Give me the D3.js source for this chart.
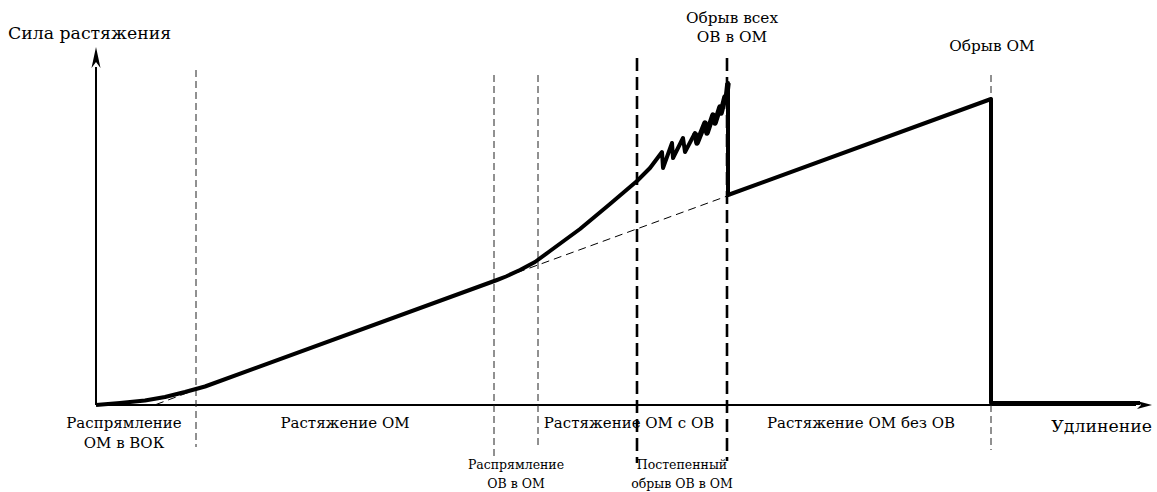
<!DOCTYPE html>
<html>
<head>
<meta charset="utf-8">
<script src="https://cdn.jsdelivr.net/npm/d3@7/dist/d3.min.js"></script>
<style>
  html, body { margin: 0; padding: 0; background: #fff; }
  svg { display: block; }
  svg text { font-family: "DejaVu Serif", "Liberation Serif", serif; }
</style>
</head>
<body>
<svg id="chart" width="1157" height="492"></svg>
<script>
// ---- data (elongation units, force units) ----
const curveX = [0, 2.4, 4.9, 6.9, 8.9, 10.9, 40.1, 41.0, 42.4, 43.9, 45.4, 48.4, 51.4, 54.1, 55.4,
  56.6, 56.7, 57.6, 57.7, 58.7, 58.9, 59.9, 60.1, 60.9, 61.1, 61.7, 61.9, 62.4, 62.5, 62.9, 63.0, 63.2,
  63.2, 89.5, 89.5, 104.4];
const curveY = [0, 0.2, 0.45, 0.8, 1.3, 1.85, 12.5, 12.85, 13.5, 14.3, 15.4, 17.6, 20.1, 22.4, 23.7,
  25.3, 23.7, 26.2, 24.7, 26.7, 25.3, 27.2, 26.2, 28.2, 27.2, 29.0, 28.2, 29.8, 29.2, 30.8, 30.4, 32.2,
  21.0, 30.6, 0.2, 0.2];
// extrapolated linear (fiber-module only) line segments
const linearX = [[6.0, 11.5], [40.9, 63.2]];
const linearY = [[0.05, 2.1], [12.8, 20.93]];
// boundary markers
const markerX = [10.0, 39.8, 44.2, 54.1, 63.1, 89.5];
const markerHeavy = [false, false, false, true, true, false];
// region labels under axis
const regionLabels = [["Распрямление", "ОМ в ВОК"], ["Растяжение ОМ"], ["Растяжение  ОМ с ОВ"], ["Растяжение ОМ без ОВ"]];
const regionLabelX = [2.8, 24.9, 53.3, 76.5];
const subLabels = [["Распрямление", "ОВ в ОМ"], ["Постепенный", "обрыв ОВ в ОМ"]];
const subLabelX = [42.0, 58.6];
const topLabels = [["Обрыв всех", "ОВ в ОМ"], ["Обрыв  ОМ"]];
const topLabelX = [63.6, 89.6];
const yTitle = "Сила растяжения";
const xTitle = "Удлинение";

// ---- scales ----
const x = d3.scaleLinear().domain([0, 105]).range([96, 1146]);
const y = d3.scaleLinear().domain([0, 36]).range([405, 45]);
const svg = d3.select("#chart");

// axes
svg.append("line").attr("x1", x(0)).attr("x2", x(104)).attr("y1", y(0)).attr("y2", y(0))
  .attr("stroke", "#000").attr("stroke-width", 2);
svg.append("line").attr("x1", x(0)).attr("x2", x(0)).attr("y1", y(0)).attr("y2", y(33.8))
  .attr("stroke", "#000").attr("stroke-width", 2);
// arrowheads
const yt = [x(0), y(35.8)];
svg.append("path").attr("d", `M${yt[0]},${yt[1]} L${yt[0]-4.5},${yt[1]+21} L${yt[0]},${yt[1]+15} L${yt[0]+4.5},${yt[1]+21} Z`).attr("fill", "#000");
const xt = [x(105.6), y(0)];
svg.append("path").attr("d", `M${xt[0]},${xt[1]} L${xt[0]-15},${xt[1]-4} L${xt[0]-11},${xt[1]} L${xt[0]-15},${xt[1]+4} Z`).attr("fill", "#000");

// marker lines
const markerTop = [70, 75, 75, 58, 58, 75];
const markerBot = [447, 457, 447, 463, 461, 450];
markerX.forEach((mx, i) => {
  svg.append("line").attr("x1", x(mx)).attr("x2", x(mx))
    .attr("y1", markerTop[i]).attr("y2", markerBot[i])
    .attr("stroke", markerHeavy[i] ? "#000" : "#222")
    .attr("stroke-width", markerHeavy[i] ? 2.6 : 1)
    .attr("stroke-dasharray", markerHeavy[i] ? "13,6" : "7,4");
});

// linear dashed extrapolation
linearX.forEach((lx, i) => {
  svg.append("line").attr("x1", x(lx[0])).attr("x2", x(lx[1]))
    .attr("y1", y(linearY[i][0])).attr("y2", y(linearY[i][1]))
    .attr("stroke", "#000").attr("stroke-width", 1).attr("stroke-dasharray", "8,5");
});

// main curve
const pts = curveX.map((cx, i) => [cx, curveY[i]]);
svg.append("path").datum(pts)
  .attr("d", d3.line().x(d => x(d[0])).y(d => y(d[1])))
  .attr("fill", "none").attr("stroke", "#000").attr("stroke-width", 4)
  .attr("stroke-linejoin", "round").attr("stroke-linecap", "butt");
// heavier look of the dense breaking-fiber teeth
svg.append("path").datum(pts.slice(21, 32))
  .attr("d", d3.line().x(d => x(d[0])).y(d => y(d[1])))
  .attr("fill", "none").attr("stroke", "#000").attr("stroke-width", 5.5)
  .attr("stroke-linejoin", "round");

// labels
function multi(lines, cx, baseY, size, lh) {
  const t = svg.append("text").attr("text-anchor", "middle")
    .style("font-size", size + "px").attr("fill", "#000");
  lines.forEach((s, j) => t.append("tspan").attr("x", cx).attr("y", baseY + j * lh).text(s));
}
regionLabels.forEach((l, i) => multi(l, x(regionLabelX[i]), 428, 15, 20));
subLabels.forEach((l, i) => multi(l, x(subLabelX[i]), 469, 12.5, 19));
multi(topLabels[0], x(topLabelX[0]), 23, 15.3, 19);
multi(topLabels[1], x(topLabelX[1]), 51, 15.3, 19);
svg.append("text").attr("x", 8).attr("y", 39).style("font-size", "17.3px").text(yTitle);
svg.append("text").attr("x", 1152).attr("y", 432).attr("text-anchor", "end").style("font-size", "17.3px").text(xTitle);
</script>
</body>
</html>
